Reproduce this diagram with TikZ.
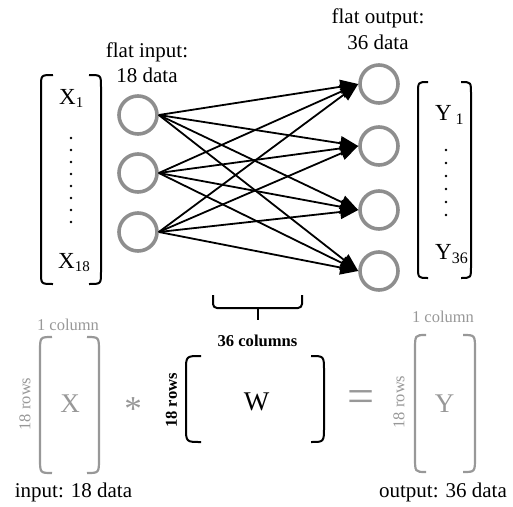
\documentclass[tikz,border=0pt]{standalone}
\usepackage{fontspec}
\setmainfont{Liberation Serif}
\usetikzlibrary{arrows.meta}
\definecolor{ringgray}{RGB}{142,142,142}
\definecolor{softgray}{RGB}{152,152,152}
\newcommand\fsz[1]{\fontsize{#1}{#1}\selectfont}
% left / right round-cornered matrix brackets: x, width, top, bottom, corner, style
\newcommand\brackL[6]{\draw[#6] ({#1+#2},#3) .. controls (#1,#3) .. (#1,{#3+#5}) -- (#1,{#4-#5}) .. controls (#1,#4) .. ({#1+#2},#4);}
\newcommand\brackR[6]{\draw[#6] ({#1-#2},#3) .. controls (#1,#3) .. (#1,{#3+#5}) -- (#1,{#4-#5}) .. controls (#1,#4) .. ({#1-#2},#4);}
\begin{document}
\begin{tikzpicture}[x=1pt,y=-1pt,
  ring/.style={circle,draw=ringgray,line width=3.6pt,minimum size=38pt,inner sep=0pt},
  link/.style={line width=1.8pt,-{Triangle[length=18pt,width=14pt]}},
  brk/.style={line width=2pt,black},
  gbrk/.style={line width=2.2pt,softgray},
  lbl/.style={inner sep=0pt,anchor=base,font=\fsz{21}},
  vec/.style={inner sep=0pt,anchor=base west,font=\fsz{23}},
  dim/.style={inner sep=0pt,anchor=base,text=softgray,font=\fsz{16.5}},
  rowlbl/.style={inner sep=0pt,rotate=90,text=softgray,font=\fsz{16.5}},
  mat/.style={inner sep=0pt,anchor=base,font=\fsz{27}}]
\useasboundingbox (0,0) rectangle (513,506);

% layer labels
\node[lbl] (fin1) at (147,57) {flat input:};
\node[lbl] (fin2) at (147,82) {18 data};
\node[lbl] (fout1) at (378,23) {flat output:};
\node[lbl] (fout2) at (378,49) {36 data};

% input and output units
\node[ring] (i1) at (138,115) {};
\node[ring] (i2) at (138,173) {};
\node[ring] (i3) at (138,232) {};
\node[ring] (o1) at (379,84) {};
\node[ring] (o2) at (379,146) {};
\node[ring] (o3) at (379,210) {};
\node[ring] (o4) at (379,271) {};

% fully connected weights
\foreach \i in {1,2,3}
  \foreach \o in {1,2,3,4}
    \draw[link] (i\i.east) -- (o\o.west);

% input vector
\brackL{41}{12}{75}{284}{12}{brk}
\brackR{101}{12}{75}{284}{12}{brk}
\node[vec] (x1) at (59,104) {X\raisebox{-3pt}{\fsz{15}1}};
\node[vec] (x18) at (58,268) {X\raisebox{-3pt}{\fsz{15}18}};
\foreach \y in {138,150,...,222} \fill (71,\y) circle (1.3pt);

% output vector
\brackL{418}{10}{82}{278}{12}{brk}
\brackR{471}{10}{82}{278}{12}{brk}
\node[vec] (y1) at (435,120) {Y\,\raisebox{-4pt}{\fsz{16}1}};
\node[vec] (y36) at (435,259) {Y\raisebox{-4pt}{\fsz{16}36}};
\foreach \y in {150,163,...,215} \fill (446,\y) circle (1.3pt);

% brace over the weight matrix
\draw[line width=2pt,rounded corners=4pt] (213,295) -- (213,308) -- (302,308) -- (302,295);
\coordinate (bm) at (257.5,308);
\coordinate (bt) at (257.5,320);
\draw[line width=2pt] (bm) -- (bt);
\node[inner sep=0pt,anchor=base,font=\fsz{16.6}\bfseries] (cols) at (257.5,346) {36 columns};

% X * W = Y
\node[dim] (colx) at (68,330) {1 column};
\node[rowlbl] (rowx) at (25,404) {18 rows};
\brackL{40}{12}{337}{473}{15}{gbrk}
\brackR{99}{12}{337}{473}{15}{gbrk}
\node[mat,text=softgray] (mx) at (70,412) {X};

\node[inner sep=0pt,anchor=base,text=softgray,font=\fsz{35}] (star) at (133,420) {*};

\node[inner sep=0pt,rotate=90,font=\fsz{16.6}\bfseries] (roww) at (171.5,400.5) {18 rows};
\brackL{186}{15}{356}{442}{15}{brk}
\brackR{324}{13}{356}{442}{15}{brk}
\node[mat] (mw) at (256.5,410) {W};

\node[inner sep=0pt,anchor=base,text=softgray,font=\fsz{48}] (eq) at (361,412) {=};

\node[dim] (coly) at (443,322) {1 column};
\node[rowlbl] (rowy) at (399,402) {18 rows};
\brackL{415}{11}{335}{472}{15}{gbrk}
\brackR{475}{12}{335}{472}{15}{gbrk}
\node[mat,text=softgray] (my) at (444.5,412) {Y};

\node[lbl] (inp) at (73.5,497) {input: 18 data};
\node[lbl] (outp) at (443,497) {output: 36 data};
\end{tikzpicture}
\end{document}
